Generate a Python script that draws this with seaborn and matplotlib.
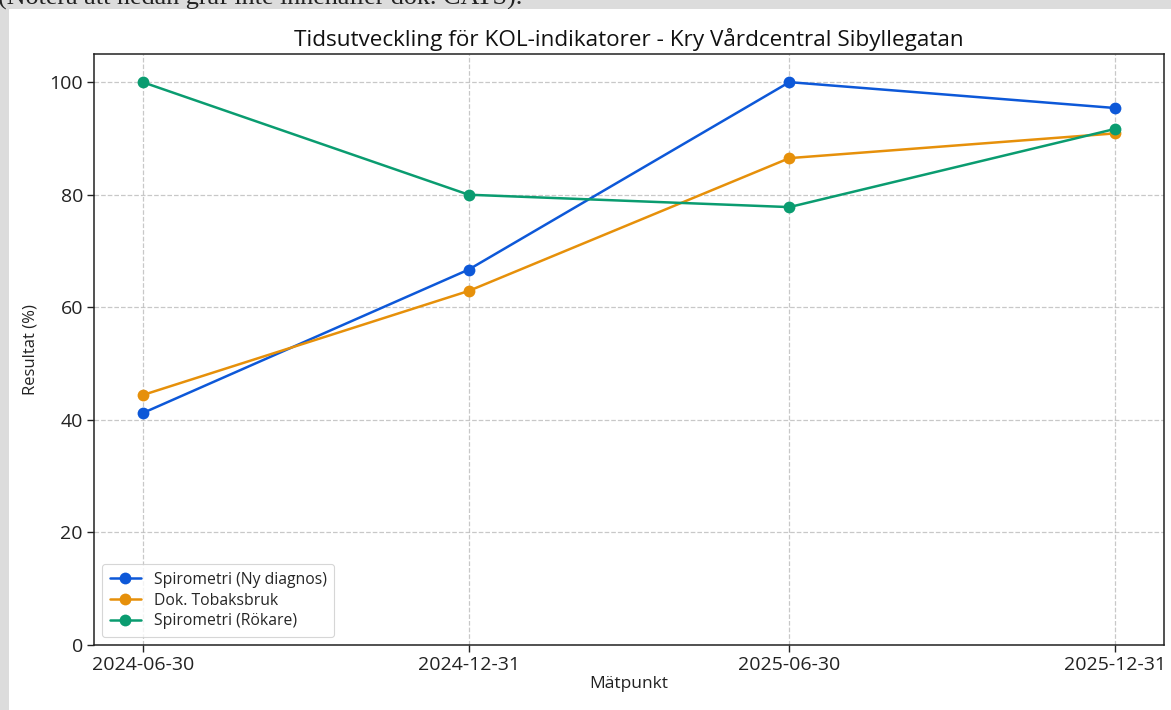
import matplotlib
matplotlib.use("Agg")
import matplotlib.pyplot as plt
import matplotlib.dates as mdates
from matplotlib.patches import Rectangle
import seaborn as sns
import pandas as pd

# ---- data ----
dates = ["2024-06-30", "2024-12-31", "2025-06-30", "2025-12-31"]
spiro_ny = [41.2, 66.7, 100.0, 95.4]
tobak = [44.4, 62.9, 86.5, 90.9]
spiro_rok = [100.0, 80.0, 77.8, 91.7]
series_names = ["Spirometri (Ny diagnos)", "Dok. Tobaksbruk", "Spirometri (Rökare)"]
colors = ["#0d58d8", "#e6900a", "#0a9c70"]
title = "Tidsutveckling för KOL-indikatorer - Kry Vårdcentral Sibyllegatan"
note = "(Notera att nedan graf inte innehåller dok. CATS)."

sns.set_theme(style="ticks")
plt.rcParams["font.family"] = ["Open Sans", "DejaVu Sans"]

x = pd.to_datetime(dates)
W, H = 1171, 710
fig = plt.figure(figsize=(W / 100, H / 100), dpi=100)
fig.patch.set_facecolor("#dcdcdc")

# white page area and clipped note text (screenshot look)
fig.text(-0.002, 1 - 5 / H, note, family=["Liberation Serif", "DejaVu Serif"],
         fontsize=18.8, va="baseline", ha="left", color="#222222", zorder=-3)
fig.patches.append(Rectangle((9 / W, 0), 1 - 9 / W, 1 - 9 / H, transform=fig.transFigure,
                             facecolor="white", edgecolor="none", zorder=-2))

ax = fig.add_axes([94 / W, 1 - 645 / H, (1164 - 94) / W, (645 - 54) / H])
ax.set_facecolor("white")

for name, vals, c in zip(series_names, [spiro_ny, tobak, spiro_rok], colors):
    sns.lineplot(x=x, y=vals, ax=ax, marker="o", markersize=8.5, markeredgewidth=0,
                 linewidth=1.8, color=c, label=name)

ax.set_ylim(0, 105)
ax.set_xticks(x)
ax.xaxis.set_major_formatter(mdates.DateFormatter("%Y-%m-%d"))
ax.set_yticks([0, 20, 40, 60, 80, 100])
ax.tick_params(axis="both", labelsize=14, colors="#222222", length=5, width=1, pad=3)
ax.grid(True, linestyle="--", color="#bbbbbb", linewidth=0.9, alpha=0.8)
for s in ax.spines.values():
    s.set_visible(True)
    s.set_color("#222222")
    s.set_linewidth(1.1)

ax.set_title(title, fontsize=16.2, color="#111111", pad=6)
ax.set_xlabel("Mätpunkt", fontsize=12.5, color="#222222", labelpad=1)
ax.set_ylabel("Resultat (%)", fontsize=12, color="#222222", labelpad=8)

leg = ax.legend(loc="lower left", fontsize=11.3, frameon=True, borderpad=0.5,
                handlelength=2.0, labelspacing=0.3)
leg.get_frame().set_edgecolor("#cccccc")
leg.get_frame().set_linewidth(0.8)

fig.savefig("out.png", dpi=100, facecolor=fig.get_facecolor())
